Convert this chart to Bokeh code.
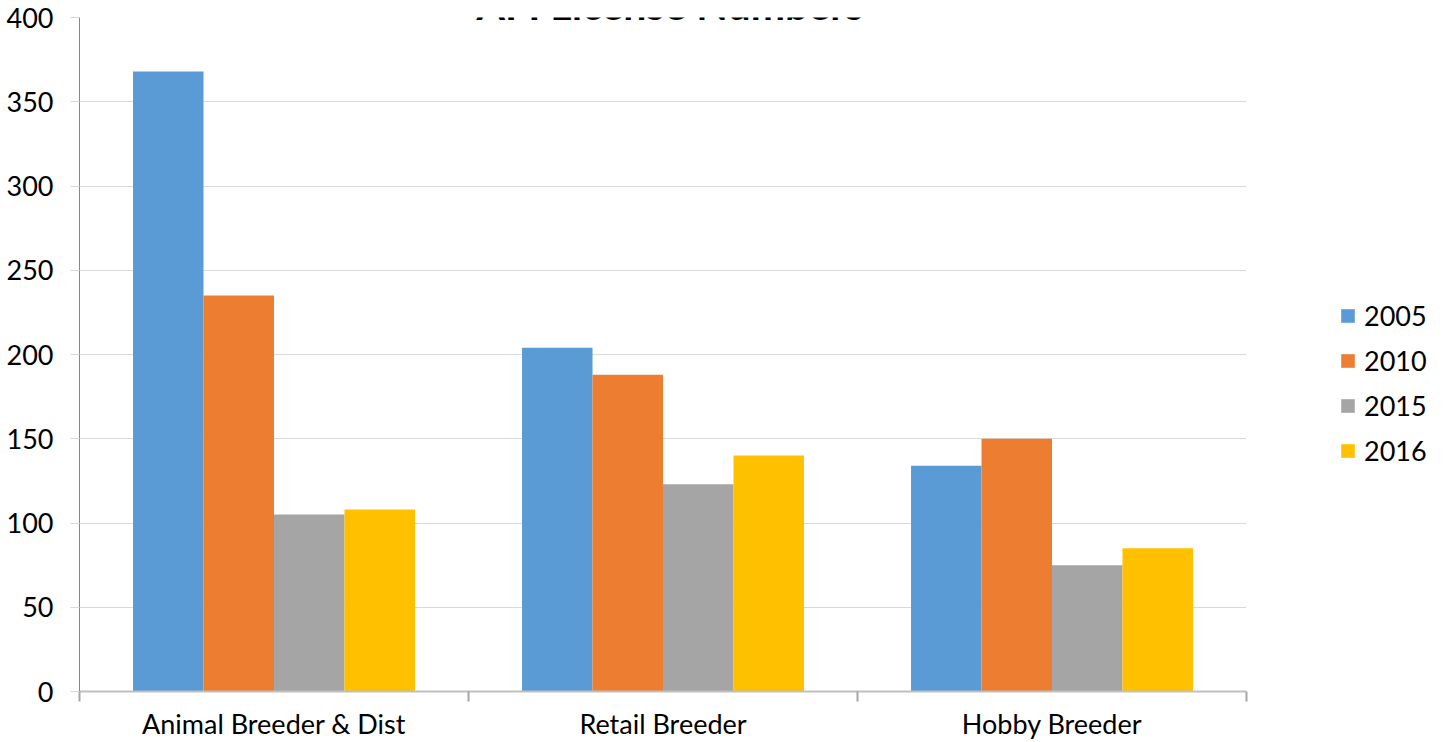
from bokeh.plotting import figure
from bokeh.layouts import row
from bokeh.models import Range1d, FixedTicker, Legend, LegendItem, Label, ColumnDataSource
from bokeh.embed import file_html
from bokeh.resources import INLINE

categories = ["Animal Breeder & Dist", "Retail Breeder", "Hobby Breeder"]
years = ["2005", "2010", "2015", "2016"]
v2005 = [368, 204, 134]
v2010 = [235, 188, 150]
v2015 = [105, 123, 75]
v2016 = [108, 140, 85]
series = [v2005, v2010, v2015, v2016]
colors = ["#5B9BD5", "#ED7D31", "#A5A5A5", "#FFC000"]
y_ticks = [0, 50, 100, 150, 200, 250, 300, 350, 400]
title_text = "AFI License Numbers"

FONT = "Lato"
bar_w = 0.1812
LEG_W = 192

p = figure(width=1443 - LEG_W, height=742, output_backend="svg", toolbar_location=None,
           x_range=Range1d(0, len(categories)), y_range=Range1d(0, 400),
           min_border_left=79, min_border_top=17, min_border_right=5, min_border_bottom=51)
p.outline_line_color = None
p.background_fill_color = "white"
p.border_fill_color = "white"

# legend panel: a separate figure; its copies of the bars lie outside its visible range
p2 = figure(width=LEG_W, height=742, output_backend="svg", toolbar_location=None,
            x_range=Range1d(-10, -9), y_range=Range1d(0, 400),
            min_border_left=0, min_border_top=0, min_border_right=0, min_border_bottom=0)
p2.axis.visible = False
p2.grid.visible = False
p2.outline_line_color = None
p2.border_fill_color = "white"

items = []
n = len(years)
for j, (yr, vals, c) in enumerate(zip(years, series, colors)):
    xs = [i + 0.5 + (j - (n - 1) / 2) * bar_w for i in range(len(categories))]
    src = ColumnDataSource(dict(x=xs, top=vals))
    p.vbar(x="x", top="top", width=bar_w, bottom=0, source=src,
           fill_color=c, line_color=None)
    r2 = p2.vbar(x="x", top="top", width=bar_w, bottom=0, source=src,
                 fill_color=c, line_color=None)
    items.append(LegendItem(label=yr, renderers=[r2]))

# x axis: labels at centers, tick marks at boundaries
xa = p.xaxis[0]
xa.ticker = FixedTicker(ticks=[i + 0.5 for i in range(len(categories))],
                        minor_ticks=list(range(len(categories) + 1)))
xa.major_label_overrides = {i + 0.5: c for i, c in enumerate(categories)}
xa.major_tick_out = 0
xa.major_tick_in = 0
xa.minor_tick_out = 10
xa.minor_tick_in = 0
xa.minor_tick_line_color = "#A6A6A6"
xa.minor_tick_line_width = 2
xa.axis_line_color = "#BFBFBF"
xa.axis_line_width = 2
xa.major_label_text_font = FONT
xa.major_label_text_font_size = "27px"
xa.major_label_text_color = "#000000"
xa.major_label_standoff = 5

ya = p.yaxis[0]
ya.ticker = FixedTicker(ticks=y_ticks)
ya.minor_tick_line_color = None
ya.major_tick_out = 9
ya.major_tick_in = 0
ya.major_tick_line_color = "#D9D9D9"
ya.axis_line_color = "#868686"
ya.axis_line_width = 1
ya.major_label_text_font = FONT
ya.major_label_text_font_size = "27px"
ya.major_label_text_color = "#000000"
ya.major_label_standoff = 17
p.xgrid.visible = False
p.ygrid.grid_line_color = "#D9D9D9"
p.ygrid.grid_line_width = 1

legend = Legend(items=items, location=(88, 224), orientation="vertical",
                border_line_color=None, background_fill_alpha=0,
                label_text_font=FONT, label_text_font_size="27px",
                label_text_color="#000000",
                glyph_width=17, glyph_height=17, label_standoff=8,
                spacing=12, padding=0, margin=0, label_height=28)
p2.add_layout(legend)

title = Label(x=1.5, y=408.0, text=title_text, text_align="center",
              text_baseline="alphabetic", x_offset=7,
              text_font=FONT, text_font_style="bold", text_font_size="41px",
              text_color="#000000")
p.add_layout(title)

layout = row(p, p2, spacing=0)
open("out.html", "w").write(file_html(layout, INLINE))
